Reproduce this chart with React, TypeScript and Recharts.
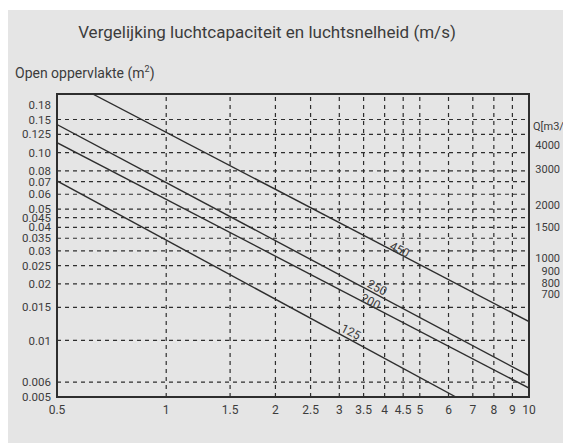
import { LineChart, Line, XAxis, YAxis, ReferenceLine, ReferenceArea, ReferenceDot } from 'recharts';

// luchtsnelheid (m/s), log-as
const velocityTicks = [0.5, 1, 1.5, 2, 2.5, 3, 3.5, 4, 4.5, 5, 6, 7, 8, 9, 10];
const velocityGrid = [1, 1.5, 2, 2.5, 3, 3.5, 4, 4.5, 5, 6, 7, 8, 9];

// open oppervlakte (m2), log-as
const areaTicks = [0.005, 0.006, 0.01, 0.015, 0.02, 0.025, 0.03, 0.035, 0.04, 0.045, 0.05, 0.06, 0.07, 0.08, 0.1, 0.125, 0.15, 0.18];
const areaTickLabels = ['0.005', '0.006', '0.01', '0.015', '0.02', '0.025', '0.03', '0.035', '0.04', '0.045', '0.05', '0.06', '0.07', '0.08', '0.10', '0.125', '0.15', '0.18'];
const areaGrid = [0.006, 0.01, 0.015, 0.02, 0.025, 0.03, 0.035, 0.04, 0.045, 0.05, 0.06, 0.07, 0.08, 0.1, 0.125, 0.15];

// rechter schaal Q (m3/h)
const flowTickAreas = [0.139, 0.11, 0.082, 0.0528, 0.0403, 0.0273, 0.0235, 0.0203, 0.0176];
const flowTickLabels = ['Q[m3/h', '4000', '3000', '2000', '1500', '1000', '900', '800', '700'];

// lijnen per debiet
const line450 = [{ v: 0.627, a: 0.205 }, { v: 10, a: 0.0126 }];
const line250 = [{ v: 0.5, a: 0.141 }, { v: 10, a: 0.0065 }];
const line200 = [{ v: 0.5, a: 0.113 }, { v: 10, a: 0.00558 }];
const line125 = [{ v: 0.5, a: 0.0706 }, { v: 6.29, a: 0.005 }];

const curveLabels = ['450', '250', '200', '125'];
const labelVelocity = [4.4, 3.81, 3.66, 3.23];
const labelArea = [0.0304, 0.0191, 0.0161, 0.0111];

const INK = '#2e2e2e';
const TEXT = '#3c3c3c';
const FONT = 'Roboto, sans-serif';

const FlowTick = (props: any) => {
  const { x, y, index } = props;
  const label = flowTickLabels[index] ?? '';
  const isTitle = index === 0;
  return (
    <text
      x={isTitle ? x + 4 : x + 31}
      y={y}
      dy="0.35em"
      textAnchor={isTitle ? 'start' : 'end'}
      fontSize={11}
      fontFamily={FONT}
      fill={TEXT}
    >
      {label}
    </text>
  );
};

const CurveLabel = (text: string) => (props: any) => (
  <text
    x={props.cx}
    y={props.cy}
    transform={`rotate(27 ${props.cx} ${props.cy})`}
    textAnchor="middle"
    dominantBaseline="central"
    fontSize={12}
    fontFamily={FONT}
    fill={TEXT}
  >
    {text}
  </text>
);

export default function App() {
  const domainA: [number, number] = [0.005, 0.205];
  return (
    <div style={{ position: 'relative', width: 564, height: 433, margin: '2px 0 0 -1px', background: '#e5e5e5', fontFamily: FONT, color: TEXT }}>
      <div style={{ position: 'absolute', left: 0, width: 520, top: 12, textAlign: 'center', fontSize: 17 }}>
        Vergelijking luchtcapaciteit en luchtsnelheid (m/s)
      </div>
      <div style={{ position: 'absolute', left: 8, top: 54, fontSize: 14 }}>
        Open oppervlakte (m<sup style={{ fontSize: 9 }}>2</sup>)
      </div>
      <div style={{ position: 'absolute', left: 0, top: 0 }}>
        <LineChart width={564} height={433} margin={{ top: 84, right: 0, bottom: 16, left: 0 }}>
          <XAxis
            dataKey="v"
            type="number"
            scale="log"
            domain={[0.5, 10]}
            allowDataOverflow
            ticks={velocityTicks}
            interval={0}
            height={30}
            tickLine={false}
            axisLine={false}
            tickSize={0}
            tickMargin={8}
            tick={{ fontSize: 12, fill: TEXT, fontFamily: FONT }}
          />
          <YAxis
            type="number"
            scale="log"
            domain={domainA}
            allowDataOverflow
            ticks={areaTicks}
            interval={0}
            width={50}
            tickLine={false}
            axisLine={false}
            tickSize={0}
            tickMargin={6}
            tickFormatter={(val: number) => areaTickLabels[areaTicks.indexOf(val)] ?? String(val)}
            tick={{ fontSize: 11.5, fill: TEXT, fontFamily: FONT }}
          />
          <YAxis
            yAxisId="q"
            orientation="right"
            type="number"
            scale="log"
            domain={domainA}
            allowDataOverflow
            ticks={flowTickAreas}
            interval={0}
            width={42}
            tickLine={false}
            axisLine={false}
            tickSize={0}
            tickMargin={0}
            tick={<FlowTick />}
          />
          {areaGrid.map((a) => (
            <ReferenceLine key={'h' + a} y={a} stroke={INK} strokeWidth={1.2} strokeDasharray="4 4" />
          ))}
          {velocityGrid.map((v) => (
            <ReferenceLine key={'v' + v} x={v} stroke={INK} strokeWidth={1.2} strokeDasharray="4 4" />
          ))}
          <Line data={line450} dataKey="a" stroke={INK} strokeWidth={1.4} dot={false} isAnimationActive={false} />
          <Line data={line250} dataKey="a" stroke={INK} strokeWidth={1.4} dot={false} isAnimationActive={false} />
          <Line data={line200} dataKey="a" stroke={INK} strokeWidth={1.4} dot={false} isAnimationActive={false} />
          <Line data={line125} dataKey="a" stroke={INK} strokeWidth={1.4} dot={false} isAnimationActive={false} />
          {curveLabels.map((t, i) => (
            <ReferenceDot key={t} x={labelVelocity[i]} y={labelArea[i]} r={0} shape={CurveLabel(t)} />
          ))}
          <ReferenceArea x1={0.5} x2={10} y1={domainA[0]} y2={domainA[1]} fill="none" stroke={INK} strokeWidth={2} />
        </LineChart>
      </div>
    </div>
  );
}
